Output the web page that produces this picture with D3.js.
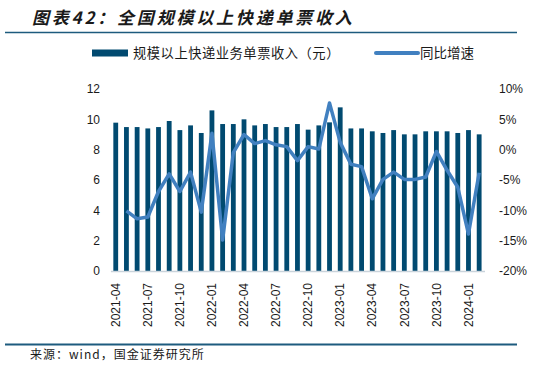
<!DOCTYPE html>
<html><head><meta charset="utf-8">
<script src="https://cdn.jsdelivr.net/npm/d3@7"></script>
<style>body{margin:0;background:#fff}svg{display:block}</style>
</head><body>
<svg id="c" width="559" height="374"></svg>
<script>
const months = ["2021-04","2021-05","2021-06","2021-07","2021-08","2021-09","2021-10","2021-11","2021-12",
"2022-01","2022-02","2022-03","2022-04","2022-05","2022-06","2022-07","2022-08","2022-09","2022-10","2022-11","2022-12",
"2023-01","2023-02","2023-03","2023-04","2023-05","2023-06","2023-07","2023-08","2023-09","2023-10","2023-11","2023-12",
"2024-01","2024-02"];
const revenue = [9.78,9.49,9.49,9.40,9.49,9.89,9.29,9.60,9.10,
10.59,9.69,9.69,10.0,9.60,9.69,9.49,9.49,9.69,9.32,9.60,9.80,
10.79,9.40,9.40,9.21,9.10,9.29,9.01,9.01,9.21,9.21,9.21,9.10,9.29,9.01];
const growth = [null,-10.1,-11.4,-11.1,-6.9,-4.0,-6.9,-3.7,-10.3,
2.7,-14.9,-0.5,2.5,1.0,1.5,0.8,0.5,-1.8,0.5,0.1,7.7,
1.2,-2.4,-2.8,-8.1,-4.9,-3.7,-4.9,-4.9,-4.5,-0.3,-3.4,-6.2,-13.9,-3.8];
const leftTicks = [0,2,4,6,8,10,12];
const rightTicks = [-20,-15,-10,-5,0,5,10];
const xTickLabels = months.filter((m,i)=>i%3===0);
const title = "图表42：全国规模以上快递单票收入";
const legendBar = "规模以上快递业务单票收入（元）";
const legendLine = "同比增速";
const source = "来源：wind，国金证券研究所";

const svg = d3.select("#c");
const teal = "#1d5b7e";
const barColor = "#014a70";
const lineColor = "#4180c0";
const font = "'Liberation Sans', Arial, sans-serif";
const cjk = "'Noto Sans CJK SC', sans-serif";

const x = d3.scaleBand().domain(months).range([110.4, 484.5]).paddingInner(0.55).paddingOuter(0.275);
const yL = d3.scaleLinear().domain([0,12]).range([271,89]);
const yR = d3.scaleLinear().domain([-20,10]).range([271,89]);

// title
svg.append("text").attr("x",32).attr("y",24).text(title)
  .attr("font-family",cjk).attr("font-size",17).attr("font-weight","bold")
  .attr("font-style","italic").attr("letter-spacing",2.8).attr("fill","#1a1a1a");
svg.append("line").attr("x1",5).attr("x2",517).attr("y1",32.5).attr("y2",32.5)
  .attr("stroke",teal).attr("stroke-width",1.5);

// legend
svg.append("rect").attr("x",92).attr("y",49.5).attr("width",36).attr("height",7).attr("fill",barColor);
svg.append("text").attr("x",133).attr("y",58).text(legendBar)
  .attr("font-family",cjk).attr("font-size",13.3).attr("letter-spacing",0.5).attr("fill","#1a1a1a");
svg.append("line").attr("x1",376).attr("x2",418).attr("y1",53).attr("y2",53)
  .attr("stroke",lineColor).attr("stroke-width",4).attr("stroke-linecap","round");
svg.append("text").attr("x",420).attr("y",58).text(legendLine)
  .attr("font-family",cjk).attr("font-size",13.5).attr("fill","#1a1a1a");

// bars
svg.append("g").selectAll("rect").data(revenue).join("rect")
  .attr("x",(d,i)=>x(months[i]))
  .attr("width",x.bandwidth())
  .attr("y",d=>yL(d))
  .attr("height",d=>yL(0)-yL(d))
  .attr("fill",barColor);

// baseline axis
const xAxis = d3.axisBottom(x).tickSize(0).tickFormat(d=>xTickLabels.includes(d)?d:"");
const gx = svg.append("g").attr("transform","translate(0,271)").call(xAxis);
gx.select(".domain").attr("stroke","#c9d3db").attr("stroke-width",1.5);
gx.selectAll(".tick text")
  .attr("font-family",font).attr("font-size",12).attr("fill","#1a1a1a")
  .attr("transform","rotate(-90)").attr("text-anchor","end")
  .attr("x",-12).attr("y",0).attr("dy","0.35em");

// line
const line = d3.line().defined(d=>d!==null)
  .x((d,i)=>x(months[i])+x.bandwidth()/2).y(d=>yR(d));
svg.append("path").datum(growth).attr("d",line)
  .attr("fill","none").attr("stroke",lineColor).attr("stroke-width",3.5)
  .attr("stroke-linejoin","round");

// left axis
const gl = svg.append("g").attr("transform","translate(100,0)")
  .call(d3.axisLeft(yL).tickValues(leftTicks).tickSize(0).tickPadding(0));
gl.select(".domain").remove();
gl.selectAll("text").attr("font-family",font).attr("font-size",12).attr("fill","#1a1a1a");

// right axis
const gr = svg.append("g").attr("transform","translate(499,0)")
  .call(d3.axisRight(yR).tickValues(rightTicks).tickSize(0).tickPadding(0).tickFormat(d=>d+"%"));
gr.select(".domain").remove();
gr.selectAll("text").attr("font-family",font).attr("font-size",12).attr("fill","#1a1a1a");

// bottom
svg.append("line").attr("x1",5).attr("x2",517).attr("y1",344.5).attr("y2",344.5)
  .attr("stroke",teal).attr("stroke-width",2);
svg.append("text").attr("x",30).attr("y",359).text(source)
  .attr("font-family",cjk).attr("font-size",12).attr("letter-spacing",1).attr("fill","#1a1a1a");
</script>
</body></html>
